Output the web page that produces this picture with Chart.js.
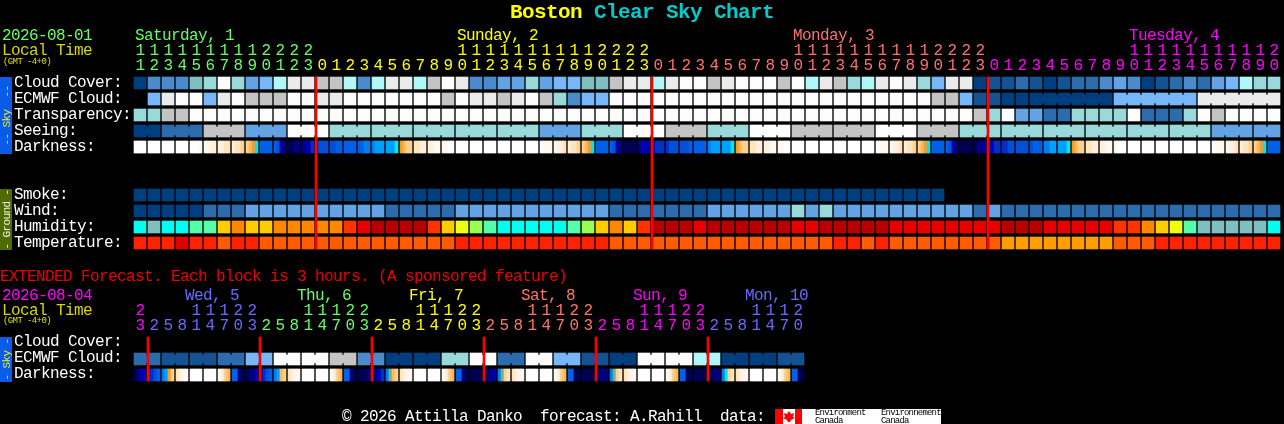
<!DOCTYPE html>
<html>
<head>
<meta charset="utf-8">
<title>Boston Clear Sky Chart</title>
<script src="https://cdn.jsdelivr.net/npm/chart.js@4"></script>
<style>
html, body { margin: 0; padding: 0; background: #000; overflow: hidden; }
canvas { display: block; }
</style>
</head>
<body>
<canvas id="csc" width="1284" height="424"></canvas>
<script>
// Hours under each block
const mainHours = [11,12,13,14,15,16,17,18,19,20,21,22,23,
  0,1,2,3,4,5,6,7,8,9,10,11,12,13,14,15,16,17,18,19,20,21,22,23,
  0,1,2,3,4,5,6,7,8,9,10,11,12,13,14,15,16,17,18,19,20,21,22,23,
  0,1,2,3,4,5,6,7,8,9,10,11,12,13,14,15,16,17,18,19,20];
const extHours = [23,
  2,5,8,11,14,17,20,23, 2,5,8,11,14,17,20,23, 2,5,8,11,14,17,20,23,
  2,5,8,11,14,17,20,23, 2,5,8,11,14,17,20,23, 2,5,8,11,14,17,20];

const mainDayLabels = ['Saturday, 1', 'Sunday, 2', 'Monday, 3', 'Tuesday, 4'];
const mainDayLabelCols = [0, 23, 47, 71];
const mainDayStarts = [0, 13, 37, 61];
const extDayLabels = ['Wed, 5', 'Thu, 6', 'Fri, 7', 'Sat, 8', 'Sun, 9', 'Mon, 10'];
const extDayLabelCols = [4, 12, 20, 28, 36, 44];
const extDayStarts = [0, 1, 9, 17, 25, 33, 41];

const skyRowLabels = ['Cloud Cover:', 'ECMWF Cloud:', 'Transparency:', 'Seeing:', 'Darkness:'];
const groundRowLabels = ['Smoke:', 'Wind:', 'Humidity:', 'Temperature:'];
const extRowLabels = ['Cloud Cover:', 'ECMWF Cloud:', 'Darkness:'];

const cloudCover = [0,3,3,3,6,7,11,7,4,5,8,10,10,9,9,8,3,8,10,10,8,9,11,10,3,3,4,4,7,4,5,5,6,6,9,10,10,
  8,10,11,11,9,10,11,11,11,9,11,8,10,9,7,8,10,11,10,7,5,10,10,0,1,1,2,1,0,1,2,2,3,4,3,0,1,2,3,2,4,5,8,7,7];
const ecmwfCloud = [null,5,10,11,11,5,10,11,9,9,9,11,11,10,10,11,11,11,11,11,11,11,9,11,10,10,9,10,11,9,7,3,5,5,
  11,11,11,11,11,11,11,11,11,11,11,11,11,11,11,11,11,11,11,11,11,11,11,9,9,5,1,1,0,0,
  0,0,0,0,0,0,5,5,5,5,5,5,10,10,10,10,10,10];
const ecmwfBlocks = [[64, 6], [70, 6], [76, 6]];
const transparency = [7,7,9,9,11,11,11,11,11,11,11,11,11,11,11,11,11,11,11,11,11,11,11,11,11,11,11,11,11,11,11,11,11,11,11,11,11,
  11,11,11,11,11,11,11,11,11,11,11,11,11,11,11,11,11,11,11,11,11,11,11,9,7,11,4,4,2,2,7,7,7,7,11,2,2,2,7,11,9,11,11,11,11];
// Seeing comes in three hour blocks
const seeingValues = [0,2,9,4,11,7,7,7,7,7,4,7,11,9,7,11,9,9,11,9,7,7,7,7,7,7,4,4];
const seeingSpans = [2,3,3,3,3,3,3,3,3,3,3,3,3,3,3,3,3,3,3,3,3,3,3,3,3,3,3,2];
const smoke = [0,0,0,0,0,0,0,0,0,0,0,0,0,0,0,0,0,0,0,0,0,0,0,0,0,0,0,0,0,
  0,0,0,0,0,0,0,0,0,0,0,0,0,0,0,0,0,0,0,0,0,0,0,0,0,0,0,0,0];
const wind = [0,0,0,0,0,2,2,2,4,4,4,4,4,4,4,4,4,4,2,2,2,2,2,4,4,4,4,4,4,4,4,4,4,4,2,2,2,2,2,2,2,
  4,4,4,4,4,4,7,4,7,4,4,4,4,4,4,4,4,4,4,2,4,2,2,2,2,2,2,2,2,2,2,2,2,2,2,2,2,2,2,2,2];
const humidity = [1,0,1,1,2,2,5,6,5,5,6,6,6,6,6,7,8,9,9,9,9,7,5,4,3,2,1,1,1,1,1,2,3,5,6,5,7,
  9,9,9,8,9,9,9,9,9,9,8,8,9,9,9,9,9,8,8,8,8,8,8,8,8,9,9,9,8,8,8,8,8,7,7,6,5,4,2,0,0,0,0,0,1];
const temperature = [1,1,1,0,1,1,2,1,1,2,2,2,2,2,2,2,2,2,2,2,2,2,2,1,1,1,1,1,1,1,1,1,1,1,2,2,2,
  2,2,2,2,2,2,2,2,2,2,2,2,2,1,1,2,1,2,2,2,2,2,2,2,2,3,3,3,3,3,3,3,3,2,2,2,1,1,1,1,1,1,1,1,1];
// Darkness changes inside a block, so four readings per block
const darkness = [
  [15,15,15,15],[15,15,15,15],[15,15,15,15],[15,15,15,15],[15,15,15,14],[14,14,13,13],[13,13,12,12],[13,12,12,11],
  [11,10,9,8],[5,5,5,5],[5,4,2,1],[0,0,1,1],[1,2,2,3],[3,4,4,4],[4,4,5,5],[5,5,5,5],[5,5,6,6],[6,7,7,7],[7,7,7,8],
  [9,10,11,11],[12,12,13,13],[13,13,14,14],[14,14,15,15],[15,15,15,15],[15,15,15,15],[15,15,15,15],[15,15,15,15],
  [15,15,15,15],[15,15,15,15],[15,14,14,14],[14,13,13,12],[13,12,12,11],[11,10,9,8],[5,5,5,5],[5,4,2,1],[0,0,0,0],
  [1,2,2,2],[2,3,3,3],[3,4,4,4],[4,4,4,5],[5,5,5,5],[6,7,7,7],[7,7,7,8],[9,10,11,11],[12,12,13,13],[13,13,14,14],
  [14,14,15,15],[15,15,15,15],[15,15,15,15],[15,15,15,15],[15,15,15,15],[15,15,15,15],[15,15,15,15],[15,14,14,14],
  [14,13,13,12],[13,12,12,11],[11,10,9,8],[5,5,5,5],[5,4,2,1],[0,0,0,0],[0,1,1,2],[2,2,3,3],[3,3,4,4],[4,4,4,4],
  [4,5,5,5],[6,6,7,7],[7,7,7,8],[9,10,11,11],[12,12,13,13],[13,13,14,14],[14,15,15,15],[15,15,15,15],[15,15,15,15],
  [15,15,15,15],[15,15,15,15],[15,15,15,15],[15,15,15,15],[15,14,14,14],[14,13,13,12],[13,12,12,11],[11,10,9,8],[5,5,5,5]
];
// Extended forecast, six hour blocks over two columns
const extEcmwf = [2,1,1,2,5,11,11,9,3,0,0,7,11,2,11,5,1,0,11,11,8,0,0,1];
const extDarkness = [
  [0,1,2,2],[3,3,4,5],[6,7,9,11],[12,13,14,15],[15,15,15,15],[15,15,15,15],[14,13,11,10],[5,5,1,0],
  [0,1,1,2],[2,3,4,5],[6,7,10,11],[12,13,14,14],[15,15,15,15],[15,15,15,15],[14,13,11,10],[5,5,1,0],
  [0,0,0,1],[1,1,2,3],[6,16,10,11],[12,13,14,14],[15,15,15,15],[15,15,15,15],[14,13,11,10],[5,5,1,0],
  [0,0,0,0],[0,1,1,2],[6,16,11,12],[12,13,14,14],[15,15,15,15],[15,15,15,15],[14,13,11,10],[5,5,0,0],
  [0,0,0,0],[0,1,1,1],[6,16,11,12],[12,13,14,14],[15,15,15,15],[15,15,15,15],[14,13,11,10],[5,5,0,0],
  [0,0,0,0],[0,0,1,1],[6,8,11,12],[12,13,14,14],[15,15,15,15],[15,15,15,15],[14,13,11,10],[5,5,0,0]
];
const midnightCols = [13, 37, 61];
const extMidnightCols = [1, 9, 17, 25, 33, 41];

// Colour scales
const cloudColors = ['#003f7f','#135393','#2c6cac','#4b8bcb','#63a3e3','#77b7f7','#7fbfbf','#99d9d9','#b0f8f8','#c4c4c4','#ebebeb','#fcfcfc'];
const humidityColors = ['#80bfbf','#00ffee','#55ffaa','#99ff55','#eeff11','#ffcc00','#ff8800','#ff3300','#e80000','#b80000'];
const tempColors = ['#e00000','#ff2200','#ff5c00','#ff9c00'];
const darkColors = ['#000050','#000080','#0000b0','#0030c8','#0050d8','#0060e8','#0080f0','#00a0ff','#00e8e8',
  '#ff9a20','#ffb860','#ffd090','#ffe4bc','#fff0dd','#fff8f0','#ffffff','#70b090'];
const mainDayColors = ['#66ff66', '#ffff00', '#ff7070', '#ff00ff'];
const extDayColors = ['#ff00ff', '#6a6aff', '#66ff66', '#ffff00', '#ff7766', '#ff00ff', '#6a6aff'];

// x unit is one block column, y unit is one 16px row
const CELL_H = 0.75;
const COL_PX = 14;
const ROWS = { cloud: 0, ecmwf: 1, transp: 2, seeing: 3, dark: 4, smoke: 7, wind: 8, humid: 9, temp: 10,
  extCloud: 16.25, extEcmwf: 17.25, extDark: 18.25 };

function cellDataset(values, row, palette) {
  const data = [], colors = [];
  values.forEach((v, col) => {
    if (v === null) return;
    data.push({ x: col, y: [row, row + CELL_H] });
    colors.push(palette[v]);
  });
  return { data, backgroundColor: colors, barThickness: 12, order: 2 };
}

// the narrow pieces that tie the blocks of a longer forecast together
function joinDataset(blocks, row, colorAt) {
  const data = [], colors = [];
  blocks.forEach(([start, span]) => {
    for (let col = start; col < start + span - 1; col++) {
      data.push({ x: col + 0.5, y: [row + 0.125, row + CELL_H - 0.125] });
      colors.push(colorAt(start));
    }
  });
  return { data, backgroundColor: colors, barThickness: 2, order: 2 };
}

function darknessDataset(readings, row) {
  const data = [], colors = [];
  readings.forEach((cell, col) => {
    cell.forEach((v, i) => {
      data.push({ x: col + (i - 1.5) * 3 / COL_PX, y: [row, row + CELL_H] });
      colors.push(darkColors[v]);
    });
  });
  return { data, backgroundColor: colors, barThickness: 3, order: 2 };
}

function midnightDataset(cols, top, bottom) {
  return {
    data: cols.map(c => ({ x: c - 6 / COL_PX, y: [top, bottom] })),
    backgroundColor: '#ff0000', barThickness: 2, order: 1
  };
}

// per column colour and value lookups for the block rows
const seeingBlocks = [];
const seeingByCol = [];
seeingSpans.forEach((span, b) => {
  seeingBlocks.push([seeingByCol.length, span]);
  for (let i = 0; i < span; i++) seeingByCol.push(seeingValues[b]);
});
const extBlocks = [];
const extByCol = [];
extEcmwf.forEach((v, b) => {
  extBlocks.push([extByCol.length, 2]);
  extByCol.push(v, v);
});

const datasets = [
  cellDataset(cloudCover, ROWS.cloud, cloudColors),
  cellDataset(ecmwfCloud, ROWS.ecmwf, cloudColors),
  joinDataset(ecmwfBlocks, ROWS.ecmwf, c => cloudColors[ecmwfCloud[c]]),
  cellDataset(transparency, ROWS.transp, cloudColors),
  cellDataset(seeingByCol, ROWS.seeing, cloudColors),
  joinDataset(seeingBlocks, ROWS.seeing, c => cloudColors[seeingByCol[c]]),
  darknessDataset(darkness, ROWS.dark),
  cellDataset(smoke, ROWS.smoke, cloudColors),
  cellDataset(wind, ROWS.wind, cloudColors),
  cellDataset(humidity, ROWS.humid, humidityColors),
  cellDataset(temperature, ROWS.temp, tempColors),
  midnightDataset(midnightCols, ROWS.cloud, ROWS.temp + CELL_H),
  cellDataset(extByCol, ROWS.extEcmwf, cloudColors),
  joinDataset(extBlocks, ROWS.extEcmwf, c => cloudColors[extByCol[c]]),
  darknessDataset(extDarkness, ROWS.extDark),
  midnightDataset(extMidnightCols, ROWS.extCloud, ROWS.extDark + CELL_H)
];

const FONT = '"Liberation Mono", monospace';
const BASE_FONT = '16px ' + FONT;

function colorForCol(col, starts, colors) {
  let c = colors[0];
  starts.forEach((s, i) => { if (col >= s) c = colors[i]; });
  return c;
}

// All the text and the side strips. The library has no axis for this layout.
const chartText = {
  id: 'chartText',
  afterDatasetsDraw(chart) {
    const ctx = chart.ctx;
    const x = chart.scales.x, y = chart.scales.y;
    ctx.save();
    // glyphs one size up but kept on the original advance
    ctx.letterSpacing = '-0.6px';
    const text = (s, px, py, color, font) => {
      ctx.font = font || BASE_FONT;
      ctx.fillStyle = color;
      ctx.fillText(s, px, py);
    };
    ctx.textBaseline = 'alphabetic';
    ctx.textAlign = 'left';

    // title
    const bold = 'bold 21px ' + FONT;
    text('Boston', 510, 18, '#ffff00', bold);
    text('Clear Sky Chart', 594, 18, '#00cccc', bold);

    // header of the main chart
    const gmtFont = '9px ' + FONT;
    text('2026-08-01', 2, 39.5, '#66ff66');
    text('Local Time', 2, 54.5, '#d8d800');
    text('(GMT -4+0)', 3, 64, '#e0e000', gmtFont);
    mainDayLabels.forEach((s, i) => {
      text(s, x.getPixelForValue(mainDayLabelCols[i]) - 5, 39.5, mainDayColors[i]);
    });

    // header of the extended chart
    text('EXTENDED Forecast. Each block is 3 hours. (A sponsored feature)', 0, 280.5, '#ee0000');
    text('2026-08-04', 2, 299.5, '#ff00ff');
    text('Local Time', 2, 314.5, '#d8d800');
    text('(GMT -4+0)', 3, 323, '#e0e000', gmtFont);
    extDayLabels.forEach((s, i) => {
      text(s, x.getPixelForValue(extDayLabelCols[i]) - 11, 299.5, extDayColors[i + 1]);
    });

    // hours, tens above units
    ctx.textAlign = 'center';
    const hourRow = (hours, starts, colors, tensY, unitsY) => {
      hours.forEach((h, col) => {
        const px = x.getPixelForValue(col);
        const color = colorForCol(col, starts, colors);
        if (h >= 10) text(String(Math.floor(h / 10)), px, tensY, color);
        text(String(h % 10), px, unitsY, color);
      });
    };
    hourRow(mainHours, mainDayStarts, mainDayColors, 54.5, 69.5);
    hourRow(extHours, extDayStarts, extDayColors, 314.5, 329.5);
    ctx.textAlign = 'left';

    // row labels
    const rowLabel = (s, row, off) => text(s, 14, y.getPixelForValue(row) + off, '#ffffff');
    skyRowLabels.forEach((s, i) => rowLabel(s, ROWS.cloud + i, 9.5));
    groundRowLabels.forEach((s, i) => rowLabel(s, ROWS.smoke + i, 9.5));
    extRowLabels.forEach((s, i) => rowLabel(s, ROWS.extCloud + i, 8.5));

    // side strips
    const strip = (top, bottom, color, label, textColor) => {
      const t = y.getPixelForValue(top), b = y.getPixelForValue(bottom);
      ctx.fillStyle = color;
      ctx.fillRect(0, t, 12, b - t);
      ctx.save();
      ctx.translate(10, (t + b) / 2);
      ctx.rotate(-Math.PI / 2);
      ctx.textAlign = 'center';
      text(label, 0, 0, textColor, '11px ' + FONT);
      ctx.restore();
    };
    strip(ROWS.cloud, ROWS.dark + CELL_H + 0.0625, '#0a5ce8', '-- Sky  --', '#f0f020');
    strip(ROWS.smoke, ROWS.temp + CELL_H + 0.0625, '#4f6a00', '- Ground -', '#f0f0e0');
    strip(ROWS.extCloud, ROWS.extDark + CELL_H + 0.0625, '#0a5ce8', '- Sky -', '#f0f020');

    // footer
    text('\u00a9 2026 Attilla Danko  forecast: A.Rahill  data:', 342, 420.5, '#ffffff');
    ctx.fillStyle = '#ffffff';
    ctx.fillRect(775, 409, 166, 15);
    ctx.fillStyle = '#ff0000';
    ctx.fillRect(775, 409, 8, 15);
    ctx.fillRect(795, 409, 7, 15);
    // small maple leaf
    ctx.beginPath();
    [[789,411],[791,414],[794,413],[793,417],[795,418],[791,420],[790,422],[788,422],[787,420],[783,418],[785,417],[784,413],[787,414]]
      .forEach(([px, py], i) => i ? ctx.lineTo(px, py) : ctx.moveTo(px, py));
    ctx.closePath();
    ctx.fill();
    ctx.save();
    ctx.beginPath();
    ctx.rect(775, 409, 166, 15);
    ctx.clip();
    ctx.letterSpacing = '-0.8px';
    const small = '9px ' + FONT;
    text('Environment', 815, 415, '#000000', small);
    text('Canada', 815, 423, '#000000', small);
    text('Environnement', 881, 415, '#000000', small);
    text('Canada', 881, 423, '#000000', small);
    ctx.restore();
    ctx.restore();
  }
};

new Chart(document.getElementById('csc'), {
  type: 'bar',
  data: { datasets },
  options: {
    responsive: false,
    animation: false,
    devicePixelRatio: 1,
    layout: { padding: 0 },
    datasets: { bar: { grouped: false, borderWidth: 0, borderSkipped: false } },
    scales: {
      x: { type: 'linear', display: false, offset: false, min: -10, max: -10 + 1284 / COL_PX },
      y: { type: 'linear', display: false, reverse: true, min: -77 / 16, max: 347 / 16 }
    },
    plugins: { legend: { display: false }, tooltip: { enabled: false } }
  },
  plugins: [chartText]
});
</script>
</body>
</html>
